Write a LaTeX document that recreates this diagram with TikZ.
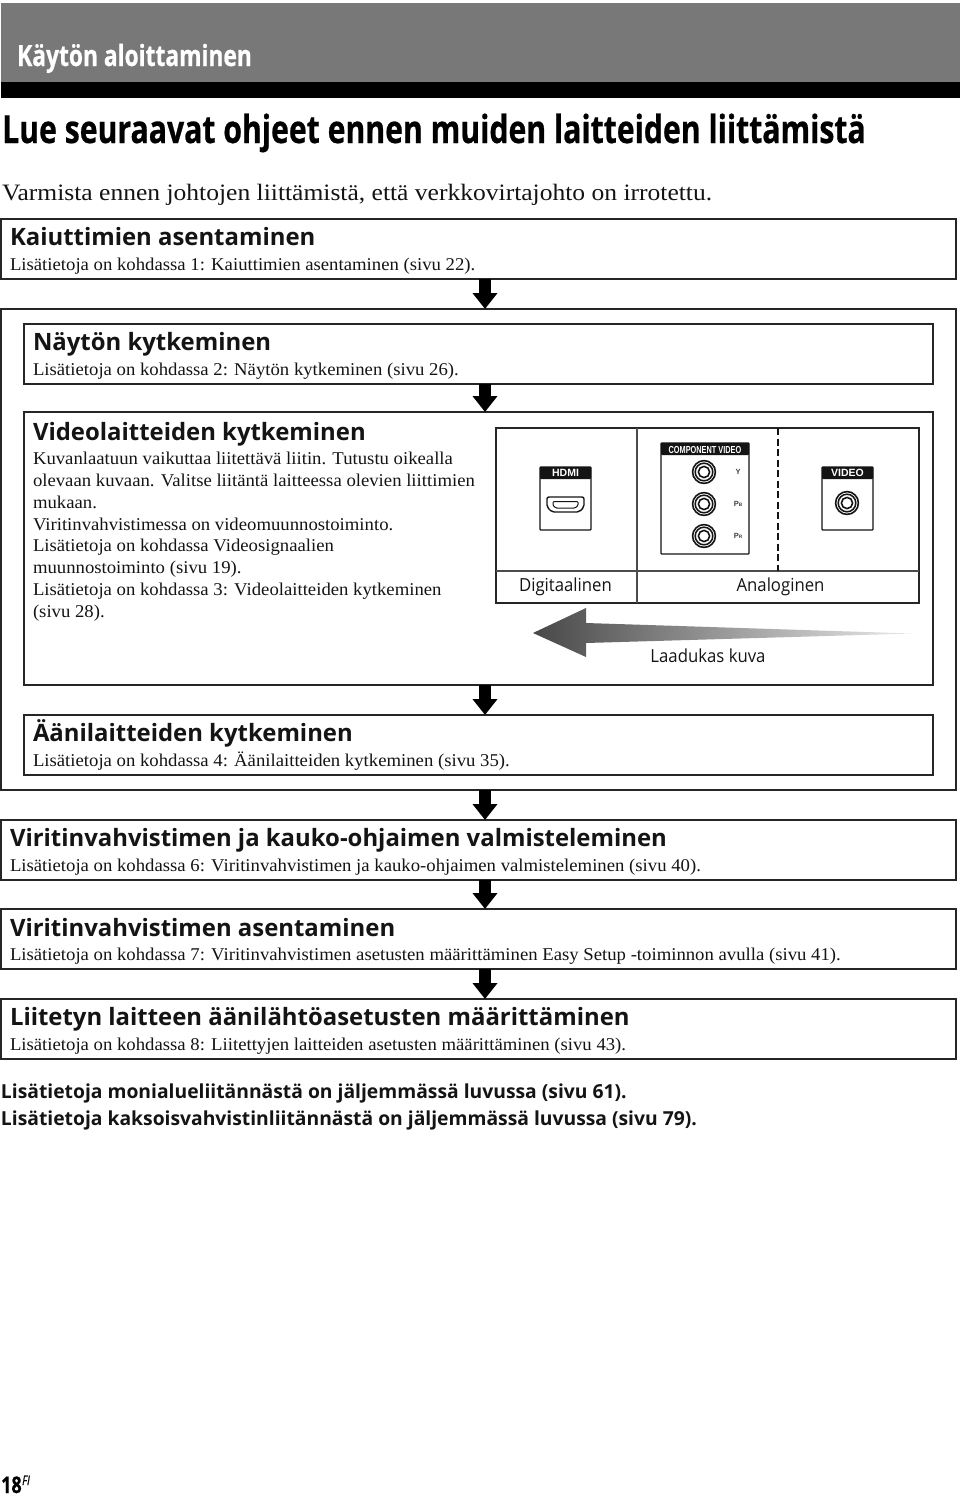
\documentclass[tikz,border=0pt]{standalone}
\usepackage{fontspec}
\usetikzlibrary{arrows.meta,fit,calc}
\setmainfont{Liberation Serif}[FakeStretch=1.04]
\newfontfamily\introfont{Liberation Serif}[FakeStretch=1.087]
\newfontfamily\headfont{Open Sans}
\newfontfamily\condfont{Open Sans}[FakeStretch=0.78,FakeBold=0.6]
\newfontfamily\labelfont{Open Sans}[FakeStretch=0.93]
\newfontfamily\cardfont{Liberation Sans}
\newfontfamily\cardnarrow{Liberation Sans}[FakeStretch=0.72]
\definecolor{band}{gray}{0.47}
\definecolor{ink}{gray}{0.08}
\definecolor{rule}{gray}{0.15}
\tikzset{
  x=1pt,y=-1pt,
  flowbox/.style={draw=rule,line width=1.6pt,fill=none,inner sep=0pt,outer sep=0pt},
  cell/.style={draw=ink,line width=1.2pt,fill=white,inner sep=0pt,outer sep=0pt,rounded corners=0.8pt},
  hd/.style={anchor=base west,inner sep=0pt,outer sep=0pt,text=ink,font=\headfont\bfseries\fontsize{23.9}{28}\selectfont},
  note/.style={hd,font=\headfont\bfseries\fontsize{19.3}{22}\selectfont},
  bd/.style={anchor=base west,inner sep=0pt,outer sep=0pt,text=ink,font=\fontsize{18}{21.75}\selectfont},
  lb/.style={anchor=base,inner sep=0pt,outer sep=0pt,text=ink,font=\labelfont\fontsize{18}{20}\selectfont},
  flow/.style={draw=black,line width=12pt,-{Triangle[length=16pt,width=24pt]},shorten >=0pt},
  cardtxt/.style={inner sep=0pt,outer sep=0pt,text=white,font=\cardfont\bfseries\fontsize{10.5}{12}\selectfont},
  jacklbl/.style={inner sep=0pt,outer sep=0pt,text=black!75,font=\cardfont\bfseries\fontsize{7.5}{8}\selectfont},
}
\newcommand{\jack}[2]{%
  \fill[white] (#1,#2) circle (12.4);
  \draw[ink,line width=1.6pt] (#1,#2) circle (11.4);
  \draw[ink,line width=1.5pt] (#1,#2) circle (8.8);
  \draw[ink,line width=1.6pt] (#1,#2) circle (5.6);
}
\newcommand{\lowcap}[1]{{\fontsize{4.8}{5}\selectfont #1}}
\begin{document}
\begin{tikzpicture}
\useasboundingbox (0,0) rectangle (960,1497);
\fill[white] (0,0) rectangle (960,1497);
% header band
\fill[band] (1,3) rectangle (960,82);
\fill[black] (1,82) rectangle (960,98);
\node[anchor=base west,inner sep=0,text=white,font=\condfont\bfseries\fontsize{29.2}{32}\selectfont] (chap) at (17,66) {Käytön aloittaminen};
\node[anchor=base west,inner sep=0,text=black,font=\condfont\bfseries\fontsize{38.7}{42}\selectfont] (title) at (2,143) {Lue seuraavat ohjeet ennen muiden laitteiden liittämistä};
\node[bd,font=\introfont\fontsize{23.5}{26}\selectfont] (intro) at (2,200) {Varmista ennen johtojen liittämistä, että verkkovirtajohto on irrotettu.};
% boxes
\node[flowbox,fit={(1,219)(956,279)}] (b1) {};
\node[flowbox,fit={(1,309)(956,790)}] (outer) {};
\node[flowbox,fit={(24,324)(933,384)}] (b2) {};
\node[flowbox,fit={(24,412)(933,685)}] (b3) {};
\node[flowbox,fit={(24,715)(933,775)}] (b4) {};
\node[flowbox,fit={(1,820)(956,880)}] (b5) {};
\node[flowbox,fit={(1,909)(956,969)}] (b6) {};
\node[flowbox,fit={(1,999)(956,1059)}] (b7) {};
\coordinate (ax) at (485,0);
\draw[flow] (b1.south -| ax) -- (outer.north -| ax);
\draw[flow] (b2.south -| ax) -- (b3.north -| ax);
\draw[flow] (b3.south -| ax) -- (b4.north -| ax);
\draw[flow] (outer.south -| ax) -- (b5.north -| ax);
\draw[flow] (b5.south -| ax) -- (b6.north -| ax);
\draw[flow] (b6.south -| ax) -- (b7.north -| ax);
% box texts
\node[hd] (t1) at (10,245) {Kaiuttimien asentaminen};
\node[bd] (s1) at (10,270) {Lisätietoja on kohdassa 1: Kaiuttimien asentaminen (sivu 22).};
\node[hd] (t2) at (33,350) {Näytön kytkeminen};
\node[bd] (s2) at (33,375) {Lisätietoja on kohdassa 2: Näytön kytkeminen (sivu 26).};
\node[hd] (t3) at (33,440) {Videolaitteiden kytkeminen};
\node[bd,anchor=north west,align=left] (s3) at (33,452.5) {Kuvanlaatuun vaikuttaa liitettävä liitin. Tutustu oikealla\\
olevaan kuvaan. Valitse liitäntä laitteessa olevien liittimien\\
mukaan.\\
Viritinvahvistimessa on videomuunnostoiminto.\\
Lisätietoja on kohdassa Videosignaalien\\
muunnostoiminto (sivu 19).\\
Lisätietoja on kohdassa 3: Videolaitteiden kytkeminen\\
(sivu 28).};
\node[hd] (t4) at (33,741) {Äänilaitteiden kytkeminen};
\node[bd] (s4) at (33,766) {Lisätietoja on kohdassa 4: Äänilaitteiden kytkeminen (sivu 35).};
\node[hd] (t5) at (10,846) {Viritinvahvistimen ja kauko-ohjaimen valmisteleminen};
\node[bd] (s5) at (10,871) {Lisätietoja on kohdassa 6: Viritinvahvistimen ja kauko-ohjaimen valmisteleminen (sivu 40).};
\node[hd] (t6) at (10,936) {Viritinvahvistimen asentaminen};
\node[bd] (s6) at (10,960) {Lisätietoja on kohdassa 7: Viritinvahvistimen asetusten määrittäminen Easy Setup -toiminnon avulla (sivu 41).};
\node[hd] (t7) at (10,1025) {Liitetyn laitteen äänilähtöasetusten määrittäminen};
\node[bd] (s7) at (10,1050) {Lisätietoja on kohdassa 8: Liitettyjen laitteiden asetusten määrittäminen (sivu 43).};
% panel
\node[draw=rule,line width=1.8pt,inner sep=0,outer sep=0,fit={(496,428)(919,603)}] (panel) {};
\draw[black!70,line width=1.3pt] (496,571) -- (919,571);
\draw[black!70,line width=1.3pt] (637,428) -- (637,603);
\draw[ink,line width=1.4pt,dash pattern=on 7pt off 3.5pt] (778,428) -- (778,571);
% HDMI card
\node[cell,fit={(540,467)(591,530)}] (chdmi) {};
\fill[ink,rounded corners=0.8pt] (540,467) rectangle (591,479);
\node[cardtxt] (lhdmi) at (565.5,473.3) {HDMI};
\draw[ink,line width=1.4pt,rounded corners=2pt] (547,497) -- (584,497) -- (584,507) -- (579,512) -- (552,512) -- (547,507) -- cycle;
\draw[ink,line width=1pt,rounded corners=1pt] (553,501.5) -- (578,501.5) -- (578,505.5) -- (575,508) -- (556,508) -- (553,505.5) -- cycle;
% component card
\node[cell,fit={(661,443)(749,554)}] (ccomp) {};
\fill[ink,rounded corners=0.8pt] (661,443) rectangle (749,455);
\node[cardtxt,font=\cardnarrow\bfseries\fontsize{10.2}{12}\selectfont] (lcomp) at (705,449.5) {COMPONENT VIDEO};
\jack{704}{472}
\jack{704}{504}
\jack{704}{536}
\node[jacklbl] (ly) at (738,471.5) {Y};
\node[jacklbl] (lpb) at (738,503.5) {P\lowcap{B}};
\node[jacklbl] (lpr) at (738,535.5) {P\lowcap{R}};
% video card
\node[cell,fit={(822,467)(873,530)}] (cvid) {};
\fill[ink,rounded corners=0.8pt] (822,467) rectangle (873,479);
\node[cardtxt] (lvid) at (847.5,473.3) {VIDEO};
\jack{847}{503}
% labels
\node[lb] (ldig) at (565.5,591) {Digitaalinen};
\node[lb] (lana) at (780.5,591) {Analoginen};
% quality arrow
\shade[left color=black!72,right color=black!8,shading angle=90]
  (533,633) -- (586,608) -- (586,623) -- (912,633.5) -- (586,643) -- (586,657) -- cycle;
\node[lb] (lqual) at (708,662) {Laadukas kuva};
% bottom notes
\node[note] (n1) at (1,1098) {Lisätietoja monialueliitännästä on jäljemmässä luvussa (sivu 61).};
\node[note] (n2) at (1,1125) {Lisätietoja kaksoisvahvistinliitännästä on jäljemmässä luvussa (sivu 79).};
% page number
\node[anchor=base west,inner sep=0,text=black,font=\condfont\bfseries\fontsize{23}{26}\selectfont] (pg) at (1,1493) {18};
\node[anchor=base west,inner sep=0,text=black,font=\condfont\itshape\fontsize{13}{14}\selectfont] (pgs) at (22,1485) {FI};
\end{tikzpicture}
\end{document}
